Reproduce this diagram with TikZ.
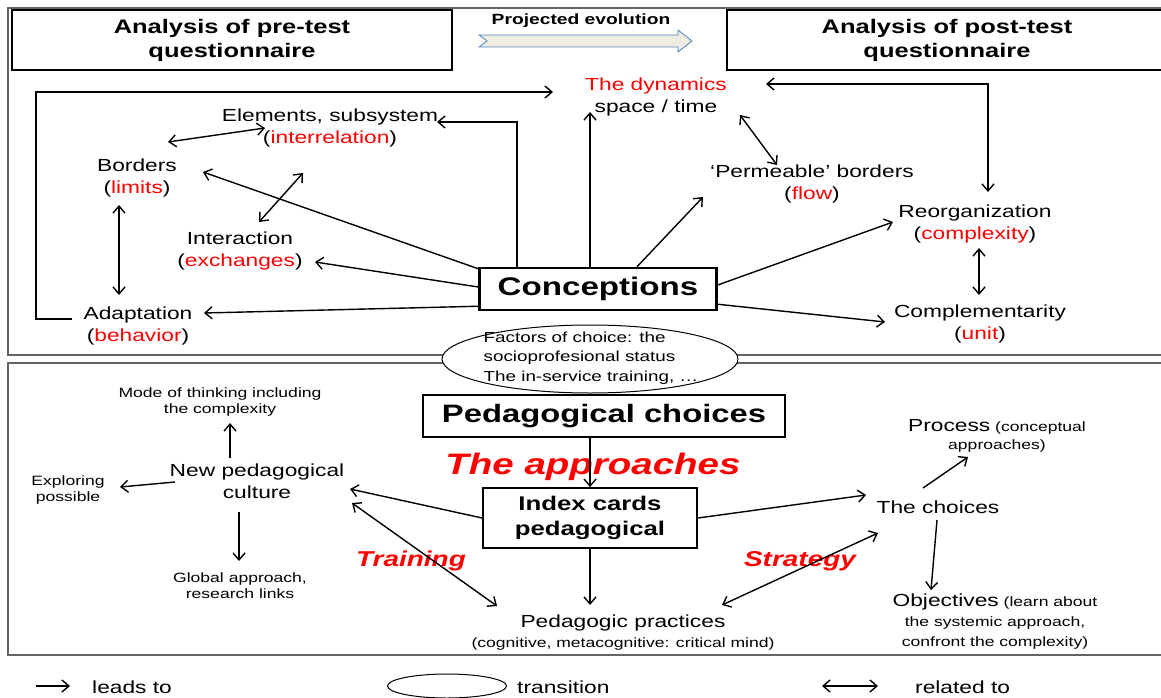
\documentclass[tikz,border=0pt]{standalone}
\usepackage{fontspec}
\setmainfont{Liberation Sans}[FakeStretch=1.3]
\usepackage{tikz}
\usetikzlibrary{arrows.meta,calc,shapes.geometric}

\definecolor{framegray}{RGB}{100,100,100}
\definecolor{evofill}{RGB}{238,236,225}
\definecolor{evoline}{RGB}{79,129,189}

\newcommand{\rd}[1]{\textcolor{red}{#1}}
\newcommand{\fs}[2]{\fontsize{#1}{#2}\selectfont}

\tikzset{
  lab/.style={align=center,font=\fs{17.5}{22},inner sep=0pt},
  smalllab/.style={align=center,font=\fs{13.5}{16},inner sep=0pt},
  headbox/.style={draw,line width=1.6pt,minimum width=440pt,minimum height=60pt,
    align=center,font=\bfseries\fs{19.6}{24}},
  redtitle/.style={text=red,font=\bfseries\itshape\fs{21.5}{24},inner sep=0pt},
  arr/.style={->,line width=1.4pt},
  darr/.style={<->,line width=1.4pt}
}

\begin{document}
\begin{tikzpicture}[x=1pt,y=-1pt,>={Straight Barb[length=7pt,width=12pt]}]
\useasboundingbox (0,0) rectangle (1161,698);
\clip (0,0) rectangle (1161,698);

% frames of the two parts
\draw[framegray,line width=1.2pt] (8,8) rectangle (1175,355);
\draw[framegray,line width=1.2pt] (8,363) rectangle (1175,655);

% headers
\node[headbox] (pre) at (232,40) {Analysis of pre-test\\questionnaire};
\node[headbox] (post) at (947,40) {Analysis of post-test\\questionnaire};
\node[font=\bfseries\fs{14.8}{16},inner sep=0pt] (evo) at (581,21) {Projected evolution};
\draw[evoline,fill=evofill,line width=0.8pt] (479,35) -- (678,35) -- (678,30) -- (692,41)
  -- (678,52) -- (678,47) -- (479,47) -- (487,41) -- cycle;

% conceptions
\node[draw,line width=2.5pt,minimum width=237pt,minimum height=42pt,
  font=\bfseries\fs{25.5}{26}] (concept) at (598,289) {Conceptions};
\node[lab] (dyn) at (656,97) {\rd{The dynamics}\\space / time};
\node[lab] (elem) at (330,128) {Elements, subsystem\\(\rd{interrelation})};
\node[lab] (bord) at (137,178) {Borders\\(\rd{limits})};
\node[lab] (inter) at (240,251) {Interaction\\(\rd{exchanges})};
\node[lab] (adapt) at (138,326) {Adaptation\\(\rd{behavior})};
\node[lab] (perm) at (812,184) {`Permeable' borders\\(\rd{flow})};
\node[lab] (reorg) at (975,224) {Reorganization\\(\rd{complexity})};
\node[lab] (compl) at (980,324) {Complementarity\\(\rd{unit})};

\draw[arr] ($(concept.north)+(-8,0)$) -- ($(dyn)+(-66,15)$);
\draw[arr] ($(concept.north)+(-81,0)$) |- ($(elem)+(107,-6)$);
\draw[arr] ($(concept.north)+(39,0)$) -- ($(perm)+(-109,13)$);
\draw[arr] ($(concept.north west)+(0,2)$) -- ($(bord)+(66,-6)$);
\draw[arr] ($(concept.west)+(0,-2)$) -- ($(inter)+(75,11)$);
\draw[arr] ($(concept.south west)+(0,-5)$) -- ($(adapt)+(66,-13)$);
\draw[arr] ($(concept.east)+(0,-4)$) -- ($(reorg)+(-82,-2)$);
\draw[arr] ($(concept.south east)+(0,-7)$) -- ($(compl)+(-95,-2)$);
\draw[arr] ($(adapt)+(-66,-7)$) -- ++(-36,0) |- ($(dyn)+(-103,-5)$);
\draw[darr] ($(reorg)+(13,-32)$) |- ($(dyn)+(110,-13)$);
\draw[darr] ($(dyn)+(84,18)$) -- ($(perm)+(-35,-19)$);
\draw[darr] ($(bord)+(31,-36)$) -- ($(elem)+(-65,0)$);
\draw[darr] ($(inter)+(19,-29)$) -- ($(elem)+(-27,45)$);
\draw[darr] ($(bord)+(-18,27)$) -- ($(adapt)+(-19,-31)$);
\draw[darr] ($(reorg)+(4,24)$) -- ($(compl)+(-1,-29)$);

% transition between the two parts
\node[draw,ellipse,fill=white,line width=1pt,minimum width=296pt,minimum height=68pt,
  inner sep=0pt] (transit) at (590,359) {};
\node[align=left,font=\fs{14.5}{19.5},inner sep=0pt] (factors) at (591,358)
  {Factors of choice: the\\socioprofesional status\\The in-service training, \dots};

% pedagogical choices
\node[draw,line width=2.5pt,minimum width=362pt,minimum height=42pt,
  font=\bfseries\fs{25.2}{26}] (pedch) at (604,416) {Pedagogical choices};
\node[text=red,font=\bfseries\itshape\fs{29.6}{30},inner sep=0pt] (appr) at (593,467) {The approaches};
\node[draw,line width=1.8pt,minimum width=214pt,minimum height=60pt,align=center,
  font=\bfseries\fs{19.8}{24.5}] (index) at (590,518) {Index cards\\pedagogical};
\node[lab,font=\fs{17.5}{20}] (pract) at (623,633)
  {Pedagogic practices\\{\fs{13.5}{20}(cognitive, metacognitive: critical mind)}};
\node[lab] (newcult) at (257,481) {New pedagogical\\culture};
\node[smalllab] (mode) at (220,402) {Mode of thinking including\\the complexity};
\node[smalllab] (explor) at (68,490) {Exploring\\possible};
\node[smalllab] (global) at (240,586) {Global approach,\\research links};
\node[smalllab,font=\fs{13.5}{18}] (process) at (997,436)
  {{\fs{17.5}{18}Process} (conceptual\\approaches)};
\node[lab] (choices) at (938,507) {The choices};
\node[smalllab,font=\fs{13.5}{20}] (object) at (995,622)
  {{\fs{17.5}{20}Objectives} (learn about\\the systemic approach,\\confront the complexity)};
\node[redtitle] (train) at (411,561) {Training};
\node[redtitle] (strat) at (800,561) {Strategy};

\draw[arr] ($(pedch.south)+(-14,0)$) -- (index.north);
\draw[arr] (index.south) -- ($(pract)+(-33,-28)$);
\draw[arr] (index.west) -- ($(newcult)+(93,8)$);
\draw[darr] ($(newcult)+(95,22)$) -- ($(pract)+(-126,-27)$);
\draw[arr] (index.east) -- ($(choices)+(-72,-12)$);
\draw[darr] ($(choices)+(-60,26)$) -- ($(pract)+(99,-28)$);
\draw[arr] ($(choices)+(-15,-19)$) -- ($(process)+(-29,21)$);
\draw[arr] ($(choices)+(-1,13)$) -- ($(object)+(-64,-32)$);
\draw[arr] ($(newcult)+(-27,-23)$) -- ($(mode)+(10,21)$);
\draw[arr] ($(newcult)+(-82,1)$) -- ($(explor)+(52,-3)$);
\draw[arr] ($(newcult)+(-18,31)$) -- ($(global)+(-1,-25)$);

% legend
\node[lab,anchor=west] (leadtxt) at (92,687) {leads to};
\draw[arr] ($(leadtxt.west)+(-56,-1)$) -- ($(leadtxt.west)+(-22,-1)$);
\node[draw,ellipse,line width=1pt,minimum width=119pt,minimum height=24pt,
  inner sep=0pt] (legell) at (447,686) {};
\node[lab,anchor=west] (transtxt) at (517,687) {transition};
\node[lab,anchor=west] (reltxt) at (915,687) {related to};
\draw[darr] ($(reltxt.west)+(-93,-1)$) -- ($(reltxt.west)+(-37,-1)$);
\end{tikzpicture}
\end{document}
